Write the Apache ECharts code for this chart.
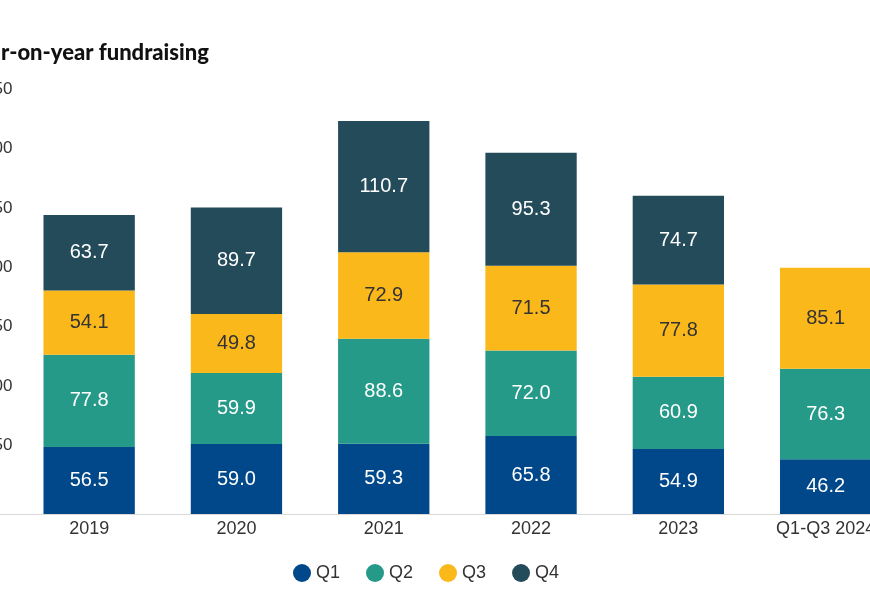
<!DOCTYPE html>
<html>
<head>
<meta charset="utf-8">
<script src="https://cdn.jsdelivr.net/npm/echarts@6/dist/echarts.min.js"></script>
<style>html,body{margin:0;padding:0;background:#fff;}#c{width:870px;height:609px;}</style>
</head>
<body>
<div id="c"></div>
<script>
const categories = ['2019', '2020', '2021', '2022', '2023', 'Q1-Q3 2024'];
const seriesNames = ['Q1', 'Q2', 'Q3', 'Q4'];
const q1 = [56.5, 59.0, 59.3, 65.8, 54.9, 46.2];
const q2 = [77.8, 59.9, 88.6, 72.0, 60.9, 76.3];
const q3 = [54.1, 49.8, 72.9, 71.5, 77.8, 85.1];
const q4 = [63.7, 89.7, 110.7, 95.3, 74.7, null];
const yTicks = { min: 0, max: 350, interval: 50 };
const titleText = 'Year-on-year fundraising';

const colors = ['#00488a', '#259a89', '#fbb81b', '#244b59'];
const labelColors = ['#ffffff', '#ffffff', '#333333', '#ffffff'];
const values = [q1, q2, q3, q4];

const chart = echarts.init(document.getElementById('c'));
chart.setOption({
  animation: false,
  title: {
    text: titleText,
    left: -39, top: 37,
    textStyle: { fontFamily: 'Lato', fontWeight: 900, fontSize: 22, color: '#111' }
  },
  legend: {
    data: seriesNames,
    left: 293, top: 564,
    icon: 'circle', itemWidth: 18, itemHeight: 18, itemGap: 26, padding: 0,
    textStyle: { fontFamily: 'Liberation Sans', fontSize: 18, color: '#333' }
  },
  grid: { left: 15.5, right: -29.3, top: 99, bottom: 95, containLabel: false, outerBoundsMode: 'none' },
  xAxis: {
    type: 'category', data: categories,
    axisTick: { show: false },
    axisLine: { lineStyle: { color: '#d9d9d9', width: 1 } },
    axisLabel: { fontFamily: 'Liberation Sans', fontSize: 18, color: '#333', margin: 6 }
  },
  yAxis: {
    type: 'value', min: yTicks.min, max: yTicks.max, interval: yTicks.interval,
    splitLine: { show: false },
    axisLine: { show: false }, axisTick: { show: false },
    axisLabel: { showMinLabel: false, fontFamily: 'Liberation Sans', fontSize: 17, color: '#333', margin: 3,
      verticalAlign: 'bottom', padding: [0, 0, 1, 0] }
  },
  graphic: [{ type: 'line', shape: { x1: 0, y1: 514.5, x2: 16, y2: 514.5 }, style: { stroke: '#d9d9d9', lineWidth: 1 } }],
  series: seriesNames.map((n, i) => ({
    name: n, type: 'bar', stack: 'total', data: values[i],
    barWidth: '62%',
    itemStyle: { color: colors[i] },
    label: {
      show: true, position: 'inside', fontFamily: 'Liberation Sans', fontSize: 20,
      color: labelColors[i], formatter: p => p.value == null ? '' : Number(p.value).toFixed(1)
    }
  }))
});
</script>
</body>
</html>
